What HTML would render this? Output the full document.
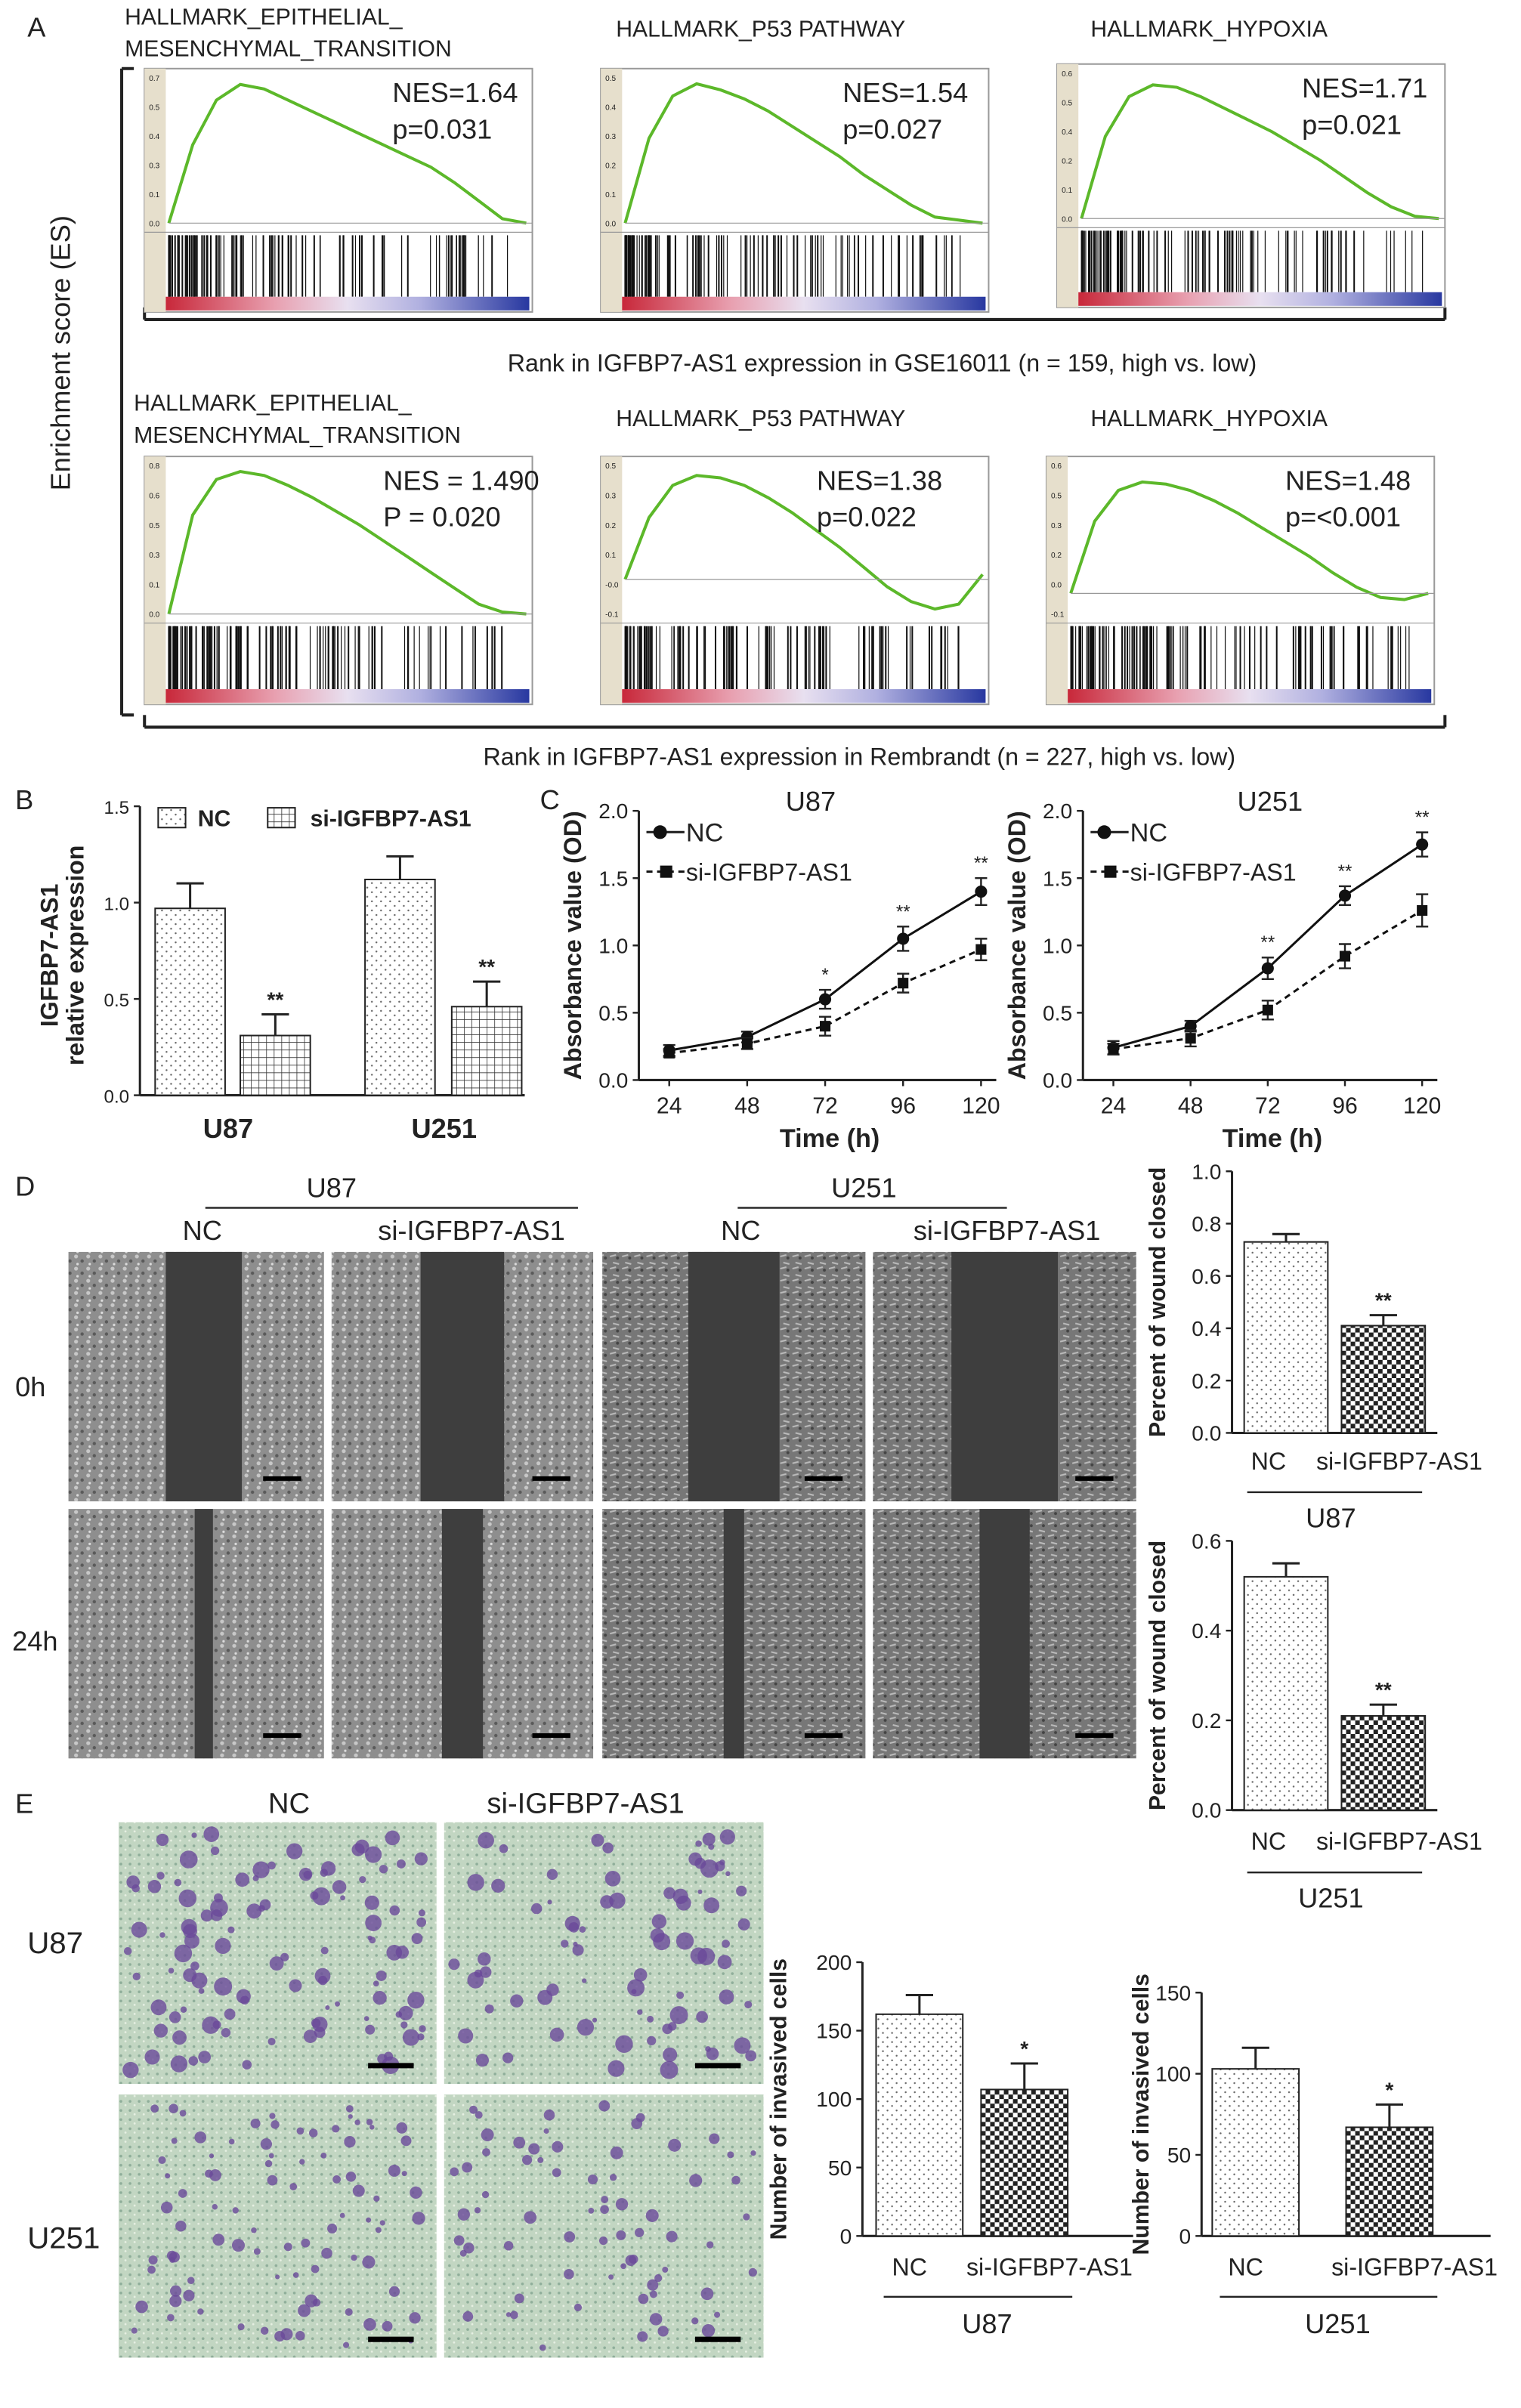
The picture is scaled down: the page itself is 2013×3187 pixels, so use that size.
<!DOCTYPE html>
<html><head><meta charset="utf-8"><style>
html,body{margin:0;padding:0;background:#fff}
svg{display:block}
text{font-family:"Liberation Sans",Arial,sans-serif;fill:#222}
</style></head><body>
<svg id="fig" width="2013" height="3187" viewBox="0 0 1000 1583" xmlns="http://www.w3.org/2000/svg">
<defs>
<linearGradient id="rankgrad" x1="0" x2="1"><stop offset="0" stop-color="#c8283a"/><stop offset="0.3" stop-color="#e8a0b0"/><stop offset="0.5" stop-color="#e8e0f0"/><stop offset="0.7" stop-color="#b0b0e0"/><stop offset="1" stop-color="#2838a0"/></linearGradient>
<pattern id="dots" width="6" height="6" patternUnits="userSpaceOnUse"><rect width="6" height="6" fill="#fff"/><circle cx="1.5" cy="1.5" r="0.6" fill="#666"/><circle cx="4.5" cy="4.5" r="0.6" fill="#666"/></pattern>
<pattern id="grid" width="5" height="5" patternUnits="userSpaceOnUse"><rect width="5" height="5" fill="#fff"/><path d="M0 0H5M0 0V5" stroke="#333" stroke-width="0.8"/></pattern>
<pattern id="check" width="6" height="6" patternUnits="userSpaceOnUse"><rect width="6" height="6" fill="#fff"/><rect width="3" height="3" fill="#222"/><rect x="3" y="3" width="3" height="3" fill="#222"/></pattern>
<pattern id="speck" width="8" height="8" patternUnits="userSpaceOnUse"><rect width="8" height="8" fill="#8e8e8e"/><circle cx="2" cy="2" r="1.3" fill="#c8c8c8"/><circle cx="6" cy="5" r="1.1" fill="#5a5a5a"/><circle cx="3" cy="7" r="0.8" fill="#dcdcdc"/></pattern>
<pattern id="speck2" width="8" height="8" patternUnits="userSpaceOnUse"><rect width="8" height="8" fill="#777"/><path d="M1 2l4 -1M3 6l4 1" stroke="#bbb" stroke-width="1"/><circle cx="6" cy="3" r="1" fill="#444"/></pattern>
<pattern id="greenspeck" width="6" height="6" patternUnits="userSpaceOnUse"><rect width="6" height="6" fill="#c2d6c2"/><circle cx="1.5" cy="1.5" r="0.9" fill="#8fae9a"/><circle cx="4.5" cy="4" r="0.7" fill="#e6efe2"/></pattern>
</defs>
<g id="root"></g>
</svg>
<script>
// ---------- data ----------
const gseaTitles1 = [["HALLMARK_EPITHELIAL_","MESENCHYMAL_TRANSITION"],["HALLMARK_P53 PATHWAY"],["HALLMARK_HYPOXIA"]];
const gseaStats1 = [["NES=1.64","p=0.031"],["NES=1.54","p=0.027"],["NES=1.71","p=0.021"]];
const gseaTitles2 = [["HALLMARK_EPITHELIAL_","MESENCHYMAL_TRANSITION"],["HALLMARK_P53 PATHWAY"],["HALLMARK_HYPOXIA"]];
const gseaStats2 = [["NES = 1.490","P = 0.020"],["NES=1.38","p=0.022"],["NES=1.48","p=<0.001"]];
const esCurve1 = [0,0.35,0.55,0.62,0.6,0.55,0.5,0.45,0.4,0.35,0.3,0.25,0.18,0.1,0.02,0];
const esCurve2 = [0,0.28,0.42,0.46,0.44,0.41,0.37,0.32,0.27,0.22,0.16,0.11,0.06,0.02,0.01,0];
const esCurve3 = [0,0.35,0.52,0.57,0.56,0.52,0.47,0.42,0.37,0.31,0.25,0.18,0.11,0.05,0.01,0];
const esCurve4 = [0,0.5,0.68,0.72,0.7,0.65,0.59,0.52,0.45,0.37,0.29,0.21,0.13,0.05,0.01,0];
const esCurve5 = [0,0.25,0.38,0.42,0.41,0.38,0.33,0.27,0.2,0.13,0.05,-0.03,-0.09,-0.12,-0.1,0.02];
const esCurve6 = [0,0.35,0.5,0.54,0.53,0.5,0.45,0.39,0.32,0.25,0.18,0.1,0.03,-0.02,-0.03,0.0];
const bGroups = ["U87","U251"];
const bNC = [0.97,1.12]; const bNCerr=[0.13,0.12];
const bSi = [0.31,0.46]; const bSiErr=[0.11,0.13];
const cTimes = [24,48,72,96,120];
const u87NC = [0.22,0.32,0.6,1.05,1.4]; const u87NCerr=[0.04,0.04,0.07,0.09,0.1];
const u87Si = [0.2,0.27,0.4,0.72,0.97]; const u87SiErr=[0.03,0.04,0.07,0.07,0.08];
const u251NC = [0.24,0.4,0.83,1.37,1.75]; const u251NCerr=[0.05,0.04,0.08,0.07,0.09];
const u251Si = [0.23,0.31,0.52,0.92,1.26]; const u251SiErr=[0.04,0.06,0.07,0.09,0.12];
const u87Stars = ["","","*","**","**"]; const u251Stars=["","","**","**","**"];
const woundU87 = [0.73,0.41]; const woundU87err=[0.03,0.04];
const woundU251 = [0.52,0.21]; const woundU251err=[0.03,0.025];
const invU87 = [162,107]; const invU87err=[14,19];
const invU251 = [103,67]; const invU251err=[13,14];
const condLabels = ["NC","si-IGFBP7-AS1"];

// ---------- helpers ----------
const NS="http://www.w3.org/2000/svg";
const root=document.getElementById('root');
function mk(tag,attrs,parent){const e=document.createElementNS(NS,tag);for(const k in attrs)e.setAttribute(k,attrs[k]);(parent||root).appendChild(e);return e;}
function txt(x,y,s,size,opts,name){opts=opts||{};const e=mk('text',Object.assign({x:x,y:y,'font-size':size},opts));e.textContent=s;

return e;}
function line(x1,y1,x2,y2,w,c,name){const e=mk('line',{x1,y1,x2,y2,stroke:c||'#222','stroke-width':w||1});

return e;}
function rect(x,y,w,h,fill,name,stroke){const e=mk('rect',{x,y,width:w,height:h,fill,stroke:stroke||'none','stroke-width':1});

return e;}
let seed=7;function rnd(){seed=(seed*16807)%2147483647;return seed/2147483647;}

// ---------- panel A ----------
txt(18,24,"A",18,{},'panel-a-label');
line(80,45,80,470,2,'#222','a-bracket');line(80,45,88,45,2);line(80,470,88,470,2);
txt(46,232,"Enrichment score (ES)",18,{transform:'rotate(-90 46 232)','text-anchor':'middle'},'y-axis-title');
line(95,210,950,210,2,'#222','row1-bracket');line(95,210,95,202,2);line(950,210,950,202,2);
txt(580,244,"Rank in IGFBP7-AS1 expression in GSE16011 (n = 159, high vs. low)",16,{'text-anchor':'middle'},'row1-caption');
line(95,478,950,478,2,'#222','row2-bracket');line(95,478,95,470,2);line(950,478,950,470,2);
txt(565,503,"Rank in IGFBP7-AS1 expression in Rembrandt (n = 227, high vs. low)",16,{'text-anchor':'middle'},'row2-caption');

function gsea(x,y,w,h,title,stats,curve,maxv,minv,titleX,titleY,statX,name){
  title.forEach((t,i)=>txt(titleX,titleY+i*21,t,15,{},'gsea-title'));
  rect(x,y,w,h,'#fff',name+'-frame','#999');
  rect(x,y,14,h,'#e6dfcc',name+'-stripe');
  const g=mk('g',{});
  
  
  const ch=h*0.66, cy0=y, px=x+16, pw=w-20;
  const sy=v=>cy0+6+(maxv-v)/(maxv-minv)*(ch-10);
  line(px,sy(0),x+w,sy(0),0.6,'#999','zero-line');
  for(let i=0;i<=5;i++){const v=minv+(maxv-minv)*i/5;txt(x+3,sy(v)+2,v.toFixed(1),5,{fill:'#666'},'tick');}
  let d='';curve.forEach((v,i)=>{const xx=px+pw*i/(curve.length-1);d+=(i?'L':'M')+xx.toFixed(1)+' '+sy(v).toFixed(1);});
  const p=mk('path',{d,fill:'none',stroke:'#5cb82a','stroke-width':2},g);
  
  
  const by=y+ch+2, bh=h-ch-12;
  line(x,by,x+w,by,0.6,'#999');
  for(let i=0;i<110;i++){const r=rnd();const f=Math.pow(rnd(),1.8);const xx=px+f*(pw-10);line(xx,by+2,xx,by+bh,r<0.5?1:0.6,'#111','hit-bar');}
  rect(x+14,y+h-10,w-16,9,'url(#rankgrad)','rank-gradient');
  txt(statX,y+22,stats[0],18,{},'nes-value');txt(statX,y+46,stats[1],18,{},'p-value');
}
gsea(95,45,255,160,gseaTitles1[0],gseaStats1[0],esCurve1,0.65,0,82,16,258,'gsea-emt-1');
gsea(395,45,255,160,gseaTitles1[1],gseaStats1[1],esCurve2,0.48,0,405,24,554,'gsea-p53-1');
gsea(695,42,255,160,gseaTitles1[2],gseaStats1[2],esCurve3,0.62,0,717,24,856,'gsea-hypoxia-1');
gsea(95,300,255,163,gseaTitles2[0],gseaStats2[0],esCurve4,0.75,0,88,270,252,'gsea-emt-2');
gsea(395,300,255,163,gseaTitles2[1],gseaStats2[1],esCurve5,0.46,-0.14,405,280,537,'gsea-p53-2');
gsea(688,300,255,163,gseaTitles2[2],gseaStats2[2],esCurve6,0.62,-0.1,717,280,845,'gsea-hypoxia-2');

// ---------- bar chart generic ----------
function barChart(cfg){
  const {x0,x1,yTop,yBot,max,ticks,decimals,vals,errs,fills,barX,barW,stars,name}=cfg;
  const sy=v=>yBot-(v/max)*(yBot-yTop);
  line(x0,yTop,x0,yBot,1.5,'#222',name+'-y-axis');line(x0,yBot,x1,yBot,1.5,'#222',name+'-x-axis');
  ticks.forEach(t=>{line(x0-4,sy(t),x0,sy(t),1.2);txt(x0-7,sy(t)+5,t.toFixed(decimals),cfg.tickSize||14,{'text-anchor':'end'},'y-tick');});
  vals.forEach((v,i)=>{
    rect(barX[i],sy(v),barW,yBot-sy(v),fills[i],name+'-bar-'+i,'#222');
    const cx=barX[i]+barW/2, ey=sy(v+errs[i]);
    line(cx,sy(v),cx,ey,1.5,'#222','error-bar');line(cx-9,ey,cx+9,ey,1.5,'#222','error-cap');
    if(stars&&stars[i])txt(cx,ey-5,stars[i],14,{'text-anchor':'middle','font-weight':'bold'},'significance');
  });
  return sy;
}

// ---------- panel B ----------
txt(10,532,"B",18,{},'panel-b-label');
txt(38,628,"IGFBP7-AS1",16,{transform:'rotate(-90 38 628)','text-anchor':'middle','font-weight':'bold'},'y-axis-title');
txt(55,628,"relative expression",16,{transform:'rotate(-90 55 628)','text-anchor':'middle','font-weight':'bold'},'y-axis-title');
const bVals=[bNC[0],bSi[0],bNC[1],bSi[1]], bErr=[bNCerr[0],bSiErr[0],bNCerr[1],bSiErr[1]];
barChart({x0:92,x1:345,yTop:530,yBot:720,max:1.5,ticks:[0,0.5,1.0,1.5],decimals:1,vals:bVals,errs:bErr,fills:['url(#dots)','url(#grid)','url(#dots)','url(#grid)'],barX:[102,158,240,297],barW:46,stars:['','**','','**'],name:'expr',tickSize:12});
rect(104,531,18,13,'url(#dots)','legend-nc-swatch','#222');txt(130,543,"NC",15,{'font-weight':'bold'},'legend-nc');
rect(176,531,18,13,'url(#grid)','legend-si-swatch','#222');txt(204,543,"si-IGFBP7-AS1",15,{'font-weight':'bold'},'legend-si');
txt(150,748,bGroups[0],18,{'text-anchor':'middle','font-weight':'bold'},'x-label-u87');
txt(292,748,bGroups[1],18,{'text-anchor':'middle','font-weight':'bold'},'x-label-u251');

// ---------- panel C ----------
txt(355,532,"C",18,{},'panel-c-label');
function lineChart(cfg){
  const {x0,x1,yTop,yBot,nc,ncE,si,siE,stars,title,tx,name}=cfg;
  const xs=t=>x0+20+(t-24)/96*(x1-x0-30);
  const sy=v=>yBot-(v/2)*(yBot-yTop);
  line(x0,yTop,x0,yBot,1.5,'#222',name+'-y-axis');line(x0,yBot,x1,yBot,1.5,'#222',name+'-x-axis');
  [0,0.5,1,1.5,2].forEach(t=>{line(x0-4,sy(t),x0,sy(t),1.2);txt(x0-7,sy(t)+5,t.toFixed(1),14,{'text-anchor':'end'},'y-tick');});
  cTimes.forEach(t=>{line(xs(t),yBot,xs(t),yBot+4,1.2);txt(xs(t),yBot+22,String(t),15,{'text-anchor':'middle'},'x-tick');});
  txt((x0+x1)/2+8,yBot+44,"Time (h)",17,{'text-anchor':'middle','font-weight':'bold'},'x-axis-title');
  txt(x0-38,(yTop+yBot)/2,"Absorbance value (OD)",16,{transform:`rotate(-90 ${x0-38} ${(yTop+yBot)/2})`,'text-anchor':'middle','font-weight':'bold'},'y-axis-title');
  txt(tx,yTop,title,18,{'text-anchor':'middle'},'chart-title');
  [[nc,ncE,'none','circle'],[si,siE,'4 3','square']].forEach(([vals,errs,dash,shape])=>{
    let d='';vals.forEach((v,i)=>{d+=(i?'L':'M')+xs(cTimes[i])+' '+sy(v);});
    const p=mk('path',{d,fill:'none',stroke:'#111','stroke-width':1.5,'stroke-dasharray':dash});
    
    
    vals.forEach((v,i)=>{const X=xs(cTimes[i]);line(X,sy(v-errs[i]),X,sy(v+errs[i]),1.2);line(X-4,sy(v+errs[i]),X+4,sy(v+errs[i]),1.2);line(X-4,sy(v-errs[i]),X+4,sy(v-errs[i]),1.2);
      let m; if(shape==='circle')m=mk('circle',{cx:X,cy:sy(v),r:4,fill:'#111'});else m=mk('rect',{x:X-3.5,y:sy(v)-3.5,width:7,height:7,fill:'#111'});
      
      });
  });
  stars.forEach((s,i)=>{if(s)txt(xs(cTimes[i]),sy(nc[i]+ncE[i])-6,s,12,{'text-anchor':'middle'},'significance');});
  line(x0+5,yTop+14,x0+30,yTop+14,1.5);mk('circle',{cx:x0+14,cy:yTop+14,r:4.5,fill:'#111'});txt(x0+31,yTop+20,"NC",17,{},'legend-nc');
  line(x0+5,yTop+40,x0+30,yTop+40,1.5,'#111').setAttribute('stroke-dasharray','4 3');mk('rect',{x:x0+14,y:yTop+36,width:8,height:8,fill:'#111'});txt(x0+31,yTop+46,"si-IGFBP7-AS1",16,{},'legend-si');
}
lineChart({x0:420,x1:655,yTop:533,yBot:710,nc:u87NC,ncE:u87NCerr,si:u87Si,siE:u87SiErr,stars:u87Stars,title:"U87",tx:533,name:'u87-growth'});
lineChart({x0:712,x1:945,yTop:533,yBot:710,nc:u251NC,ncE:u251NCerr,si:u251Si,siE:u251SiErr,stars:u251Stars,title:"U251",tx:835,name:'u251-growth'});

// ---------- panel D ----------
txt(10,786,"D",18,{},'panel-d-label');
txt(218,787,"U87",18,{'text-anchor':'middle'},'header-u87');line(135,794,380,794,1.2);
txt(568,787,"U251",18,{'text-anchor':'middle'},'header-u251');line(485,794,662,794,1.2);
txt(133,815,"NC",18,{'text-anchor':'middle'},'col-nc');txt(310,815,"si-IGFBP7-AS1",18,{'text-anchor':'middle'},'col-si');
txt(487,815,"NC",18,{'text-anchor':'middle'},'col-nc');txt(662,815,"si-IGFBP7-AS1",18,{'text-anchor':'middle'},'col-si');
txt(10,918,"0h",18,{},'row-0h');txt(8,1085,"24h",18,{},'row-24h');
const colsX=[45,218,396,574], colW=[168,172,173,173];
const gapW=[[50,40],[55,45],[60,45],[70,55]];
[[823,164],[992,164]].forEach(([ry,rh],r)=>{colsX.forEach((cx,c)=>{
  rect(cx,ry,colW[c],rh,c<2?'url(#speck)':'url(#speck2)','wound-image-'+r+'-'+c);
  const gw=r===0?gapW[c][0]:gapW[c][1]*(c%2?0.6:0.3);
  rect(cx+colW[c]/2-gw/2+(c===0?5:0),ry,gw,rh,'#3e3e3e','wound-gap');
  line(cx+colW[c]-40,ry+rh-15,cx+colW[c]-15,ry+rh-15,3,'#000','scale-bar');
});});
function woundChart(yTop,yBot,max,ticks,vals,errs,grp,ly){
  barChart({x0:810,x1:945,yTop,yBot,max,ticks,decimals:1,vals,errs,fills:['url(#dots)','url(#check)'],barX:[818,882],barW:55,stars:['','**'],name:'wound-'+grp});
  txt(766,(yTop+yBot)/2,"Percent of wound closed",15,{transform:`rotate(-90 766 ${(yTop+yBot)/2})`,'text-anchor':'middle','font-weight':'bold'},'y-axis-title');
  txt(834,ly,condLabels[0],16,{'text-anchor':'middle'},'x-tick');txt(920,ly,condLabels[1],16,{'text-anchor':'middle'},'x-tick');
  line(820,ly+15,935,ly+15,1.2);txt(875,ly+38,grp,18,{'text-anchor':'middle'},'group-label');
}
woundChart(770,942,1.0,[0,0.2,0.4,0.6,0.8,1.0],woundU87,woundU87err,'U87',966);
woundChart(1013,1190,0.6,[0,0.2,0.4,0.6],woundU251,woundU251err,'U251',1216);

// ---------- panel E ----------
txt(10,1192,"E",18,{},'panel-e-label');
txt(190,1192,"NC",19,{'text-anchor':'middle'},'col-nc');txt(385,1192,"si-IGFBP7-AS1",19,{'text-anchor':'middle'},'col-si');
txt(18,1284,"U87",20,{},'row-u87');txt(18,1478,"U251",20,{},'row-u251');
[[1198,172],[1377,173]].forEach(([ry,rh],r)=>{[[78,209],[292,210]].forEach(([cx,cw],c)=>{
  rect(cx,ry,cw,rh,'url(#greenspeck)','invasion-image-'+r+'-'+c);
  const cnt=r===0?(c===0?110:80):(c===0?90:70);
  for(let i=0;i<cnt;i++){const b=mk('circle',{cx:cx+6+rnd()*(cw-12),cy:ry+6+rnd()*(rh-12),r:1.5+rnd()*(r===0?4.5:2.8),fill:'#6a4a9a',opacity:0.8});
    }
  line(cx+cw-45,ry+rh-12,cx+cw-15,ry+rh-12,3.5,'#000','scale-bar');
});});
function invChart(x0,x1,yTop,yBot,max,ticks,vals,errs,barX,grp,ly,tOff){
  barChart({x0,x1,yTop,yBot,max,ticks,decimals:0,vals,errs,fills:['url(#dots)','url(#check)'],barX,barW:57,stars:['','*'],name:'invasion-'+grp});
  txt(x0-tOff,(yTop+yBot)/2,"Number of invasived cells",15,{transform:`rotate(-90 ${x0-tOff} ${(yTop+yBot)/2})`,'text-anchor':'middle','font-weight':'bold'},'y-axis-title');
  txt(barX[0]+22,ly,condLabels[0],16,{'text-anchor':'middle'},'x-tick');txt(barX[1]+45,ly,condLabels[1],16,{'text-anchor':'middle'},'x-tick');
  line(barX[0]+5,ly+14,barX[1]+60,ly+14,1.2);txt((barX[0]+barX[1]+57)/2+10,ly+38,grp,18,{'text-anchor':'middle'},'group-label');
}
invChart(567,745,1290,1470,200,[0,50,100,150,200],invU87,invU87err,[576,645],'U87',1496,50);
invChart(790,980,1310,1470,150,[0,50,100,150],invU251,invU251err,[797,885],'U251',1496,35);
</script>
</body></html>
